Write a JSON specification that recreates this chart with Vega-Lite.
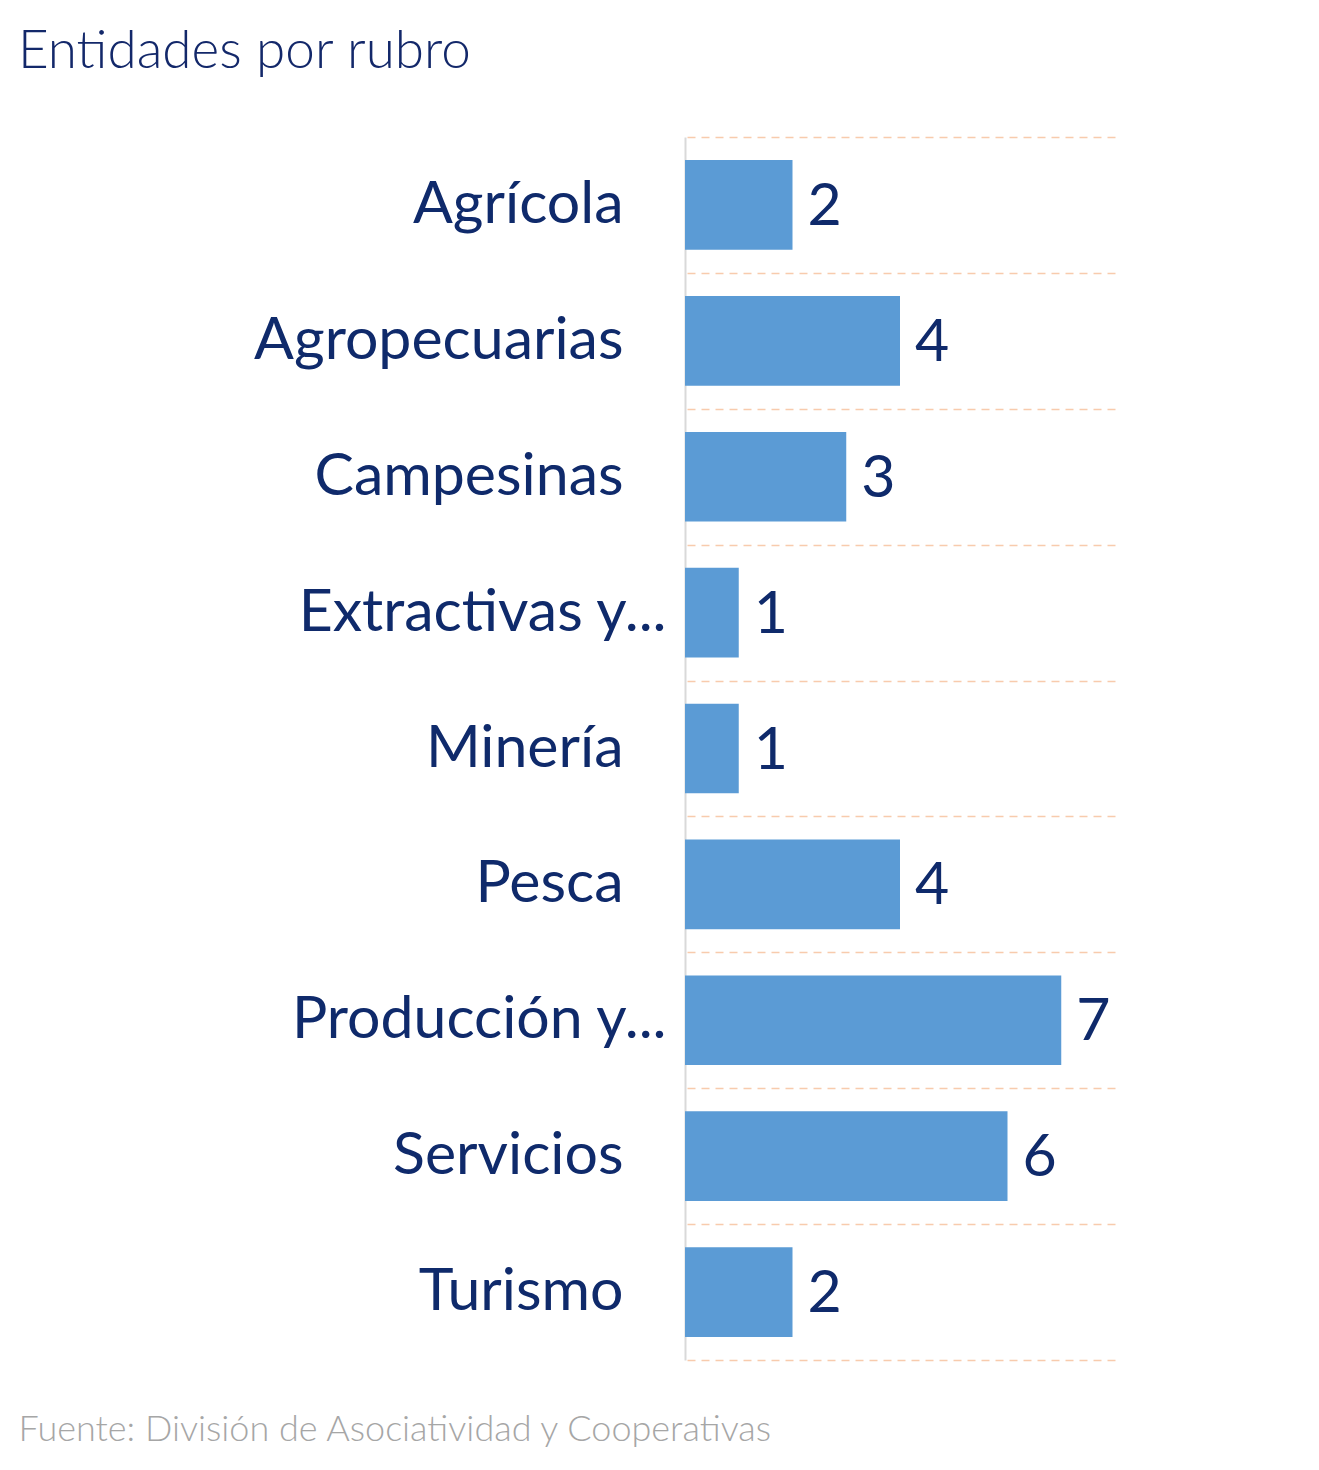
{
  "$schema": "https://vega.github.io/schema/vega-lite/v6.json",
  "autosize": "none",
  "padding": {"left": 685, "top": 137, "right": 204, "bottom": 110},
  "width": 430,
  "height": 1223,
  "background": "white",
  "title": {
    "text": "Entidades por rubro",
    "anchor": "start",
    "frame": "group",
    "dx": -667,
    "offset": 16,
    "baseline": "alphabetic",
    "font": "Lato",
    "fontSize": 53,
    "fontWeight": 300,
    "color": "#13286A"
  },
  "data": {
    "values": [
      {"rubro": "Agrícola", "entidades": 2},
      {"rubro": "Agropecuarias", "entidades": 4},
      {"rubro": "Campesinas", "entidades": 3},
      {"rubro": "Extractivas y...", "entidades": 1},
      {"rubro": "Minería", "entidades": 1},
      {"rubro": "Pesca", "entidades": 4},
      {"rubro": "Producción y...", "entidades": 7},
      {"rubro": "Servicios", "entidades": 6},
      {"rubro": "Turismo", "entidades": 2}
    ]
  },
  "layer": [
    {
      "mark": {"type": "bar", "opacity": 0},
      "encoding": {
        "y": {
          "field": "rubro",
          "type": "nominal",
          "sort": null,
          "scale": {"paddingInner": 0, "paddingOuter": 0},
          "axis": {
            "orient": "right",
            "title": null,
            "ticks": false,
            "labels": false,
            "domain": false,
            "tickBand": "extent",
            "grid": true,
            "gridColor": "#F8CBAD",
            "gridDash": [8, 6],
            "gridWidth": 1.5
          }
        },
        "x": {
          "field": "entidades",
          "type": "quantitative",
          "scale": {"domain": [0, 8], "nice": false},
          "axis": {
            "title": "Fuente: División de Asociatividad y Cooperativas",
            "titleFont": "Lato",
            "titleFontSize": 36,
            "titleFontWeight": 300,
            "titleColor": "#A6A6A6",
            "titleAnchor": "start",
            "titleAlign": "left",
            "titleBaseline": "alphabetic",
            "titleX": -667,
            "titleY": 80,
            "labels": false,
            "ticks": false,
            "domain": false,
            "grid": false
          }
        }
      }
    },
    {
      "encoding": {
        "y": {
          "field": "rubro",
          "type": "nominal",
          "sort": null,
          "scale": {"paddingInner": 0.34, "paddingOuter": 0.17},
          "axis": {
            "orient": "left",
            "title": null,
            "ticks": false,
            "grid": false,
            "domain": true,
            "domainColor": "#D9D9D9",
            "domainWidth": 2,
            "labelFont": "Lato",
            "labelFontSize": 59,
            "labelColor": "#0F2A6B",
            "labelPadding": {"condition": {"test": "indexof(datum.value, '...') >= 0", "value": 19}, "value": 62},
            "labelLimit": 0
          }
        },
        "x": {
          "field": "entidades",
          "type": "quantitative"
        }
      },
      "layer": [
        {"mark": {"type": "bar", "color": "#5B9BD5"}},
        {
          "mark": {"type": "text", "align": "left", "baseline": "middle", "dx": 15, "dy": 2, "font": "Lato", "fontSize": 59, "color": "#0F2A6B"},
          "encoding": {"text": {"field": "entidades", "type": "quantitative"}}
        }
      ]
    }
  ],
  "resolve": {"scale": {"y": "independent"}, "axis": {"y": "independent"}},
  "config": {"view": {"stroke": null}}
}
